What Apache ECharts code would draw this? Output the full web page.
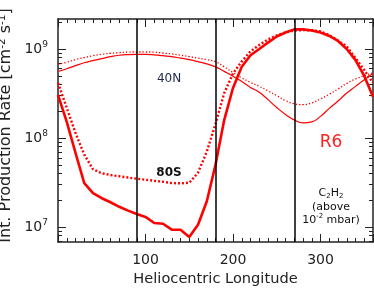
<!DOCTYPE html>
<html><head><meta charset="utf-8">
<script src="https://cdn.jsdelivr.net/npm/echarts@6/dist/echarts.min.js"></script>
<style>html,body{margin:0;padding:0;background:#fff}#c{width:374px;height:288px}</style>
</head><body><div id="c"></div>
<script>
// Heliocentric longitude (deg)
const longitudes = [0,10,20,30,40,50,60,70,80,90,100,110,120,130,140,150,160,170,180,190,200,210,220,230,240,250,260,270,280,290,300,310,320,330,340,350,360];
// Integrated production rate [cm^-2 s^-1]
const n40Solid = [5.6e8,6.0e8,6.5e8,7.0e8,7.4e8,7.8e8,8.2e8,8.5e8,8.65e8,8.7e8,8.7e8,8.6e8,8.4e8,8.2e8,7.9e8,7.6e8,7.2e8,6.8e8,6.3e8,5.6e8,4.95e8,4.3e8,3.7e8,3.27e8,2.7e8,2.2e8,1.84e8,1.6e8,1.48e8,1.52e8,1.75e8,2.15e8,2.6e8,3.2e8,3.8e8,4.5e8,5.3e8];
const n40Dotted = [6.7e8,7.1e8,7.6e8,8.0e8,8.4e8,8.7e8,8.95e8,9.1e8,9.2e8,9.25e8,9.25e8,9.2e8,9.0e8,8.8e8,8.5e8,8.2e8,7.9e8,7.6e8,7.2e8,6.3e8,5.43e8,4.73e8,4.22e8,3.8e8,3.39e8,2.99e8,2.63e8,2.43e8,2.37e8,2.48e8,2.75e8,3.1e8,3.55e8,4.1e8,4.6e8,5.0e8,5.4e8];
const s80Solid = [3.05e8,1.52e8,6.8e7,3.12e7,2.41e7,2.11e7,1.9e7,1.69e7,1.53e7,1.4e7,1.3e7,1.11e7,1.09e7,9.35e6,9.35e6,7.74e6,1.06e7,1.94e7,5.0e7,1.6e8,3.65e8,6.3e8,8.5e8,1.0e9,1.18e9,1.38e9,1.53e9,1.66e9,1.66e9,1.61e9,1.53e9,1.40e9,1.23e9,1.0e9,7.5e8,4.98e8,2.9e8];
const s80Dotted = [4.16e8,2.18e8,1.14e8,6.5e7,4.46e7,4.02e7,3.84e7,3.72e7,3.6e7,3.49e7,3.4e7,3.31e7,3.23e7,3.12e7,3.1e7,3.15e7,4.07e7,7.0e7,1.44e8,3.2e8,5.3e8,7.24e8,9.4e8,1.11e9,1.28e9,1.42e9,1.53e9,1.61e9,1.63e9,1.62e9,1.57e9,1.43e9,1.24e9,1.07e9,7.9e8,5.8e8,4.16e8];
const yMajorTicks = [1e7,1e8,1e9];
const xTickLabels = [100,200,300];
const markLongitudes = [90,180,270];
const yRange = [6.8e6, 2.17e9];

const lg = v => Math.log10(v);
const pairs = arr => longitudes.map((x,i)=>[x, lg(arr[i])]);
const yMin = lg(yRange[0]), yMax = lg(yRange[1]);
const majorLog = yMajorTicks.map(lg);
const minorLog = [];
for (let n = 6; n <= 9; n++) for (let k = 2; k <= 9; k++) {
  const v = Math.log10(k) + n;
  if (v > yMin && v < yMax) minorLog.push(v);
}
const axisColor = '#222';
const font = 'DejaVu Sans';
const supRich = {
  b: {fontSize: 14, fontFamily: font, color: '#222', lineHeight: 18},
  s: {fontSize: 9, fontFamily: font, color: '#222', lineHeight: 11, verticalAlign: 'top'}
};
const nameRich = {
  b: {fontSize: 16, fontFamily: font, color: '#222', lineHeight: 18},
  s: {fontSize: 10.5, fontFamily: font, color: '#222', lineHeight: 11, verticalAlign: 'top'}
};
function xAx(pos, major, labels) {
  return {
    type: 'value', position: pos, min: 0, max: 360, interval: major ? 100 : 10,
    axisLine: {show: major, onZero: false, lineStyle: {color: axisColor, width: 1.5}},
    axisTick: {show: true, inside: true, length: major ? 8 : 4, lineStyle: {color: axisColor, width: 1}},
    axisLabel: labels ? {show: true, customValues: xTickLabels, margin: 11, fontSize: 14, fontFamily: font, color: '#222'} : {show: false},
    splitLine: {show: false}
  };
}
function yAx(pos, major, labels) {
  const o = {
    type: 'value', position: pos, min: yMin, max: yMax,
    axisLine: {show: major, onZero: false, lineStyle: {color: axisColor, width: 1.5}},
    axisTick: {show: true, inside: true, length: major ? 8 : 4, customValues: major ? majorLog : minorLog, lineStyle: {color: axisColor, width: 1}},
    axisLabel: labels ? {show: true, customValues: majorLog, margin: 10, formatter: v => '{b|10}{s|' + Math.round(v) + '}', rich: supRich} : {show: false},
    splitLine: {show: false}
  };
  if (labels) {
    o.name = '{b|Int. Production Rate [cm}{s|-2}{b| s}{s|-1}{b|]}';
    o.nameLocation = 'middle';
    o.nameGap = 38;
    o.nameTextStyle = {rich: nameRich, padding: [0, 0, 0, 10]};
  }
  return o;
}
const xa0 = xAx('bottom', true, true);
xa0.name = 'Heliocentric Longitude';
xa0.nameLocation = 'middle';
xa0.nameGap = 29;
xa0.nameTextStyle = {fontSize: 14.6, fontFamily: font, color: '#222'};

const chart = echarts.init(document.getElementById('c'), null, {renderer: 'canvas'});
chart.setOption({
  animation: false,
  backgroundColor: '#fff',
  grid: {left: 58, right: 1, top: 19, bottom: 46, containLabel: false, outerBoundsMode: 'none'},
  xAxis: [xa0, xAx('bottom', false, false), xAx('top', true, false), xAx('top', false, false)],
  yAxis: [yAx('left', true, true), yAx('left', false, false), yAx('right', true, false), yAx('right', false, false)],
  series: [
    {type: 'line', data: pairs(n40Solid), smooth: true, symbol: 'none', lineStyle: {color: '#ff0000', width: 1.2}},
    {type: 'line', data: pairs(n40Dotted), smooth: true, symbol: 'none', lineStyle: {color: '#ff0000', width: 1.3, type: [1.3, 2]}},
    {type: 'line', data: pairs(s80Solid), symbol: 'none', lineStyle: {color: '#ff0000', width: 2.6}},
    {type: 'line', data: pairs(s80Dotted), symbol: 'none', lineStyle: {color: '#ff0000', width: 2.4, type: [2, 2]},
     markLine: {silent: true, symbol: 'none', label: {show: false},
       lineStyle: {color: '#000', width: 1.5, type: 'solid'},
       data: markLongitudes.map(x => ({xAxis: x}))}}
  ],
  graphic: [
    {type: 'text', x: 169, y: 79, style: {text: '40N', fontSize: 12, fontFamily: font, fill: '#1e2846', align: 'center', verticalAlign: 'middle'}},
    {type: 'text', x: 169, y: 173, style: {text: '80S', fontSize: 12, fontWeight: 'bold', fontFamily: font, fill: '#111', align: 'center', verticalAlign: 'middle'}},
    {type: 'text', x: 331, y: 143, style: {text: 'R6', fontSize: 17, fontFamily: font, fill: '#ff2020', align: 'center', verticalAlign: 'middle'}},
    {type: 'text', x: 331, y: 193, style: {text: '{a|C}{u|2}{a|H}{u|2}', align: 'center', verticalAlign: 'middle',
      rich: {a: {fontSize: 11, fontFamily: font, fill: '#111', lineHeight: 14}, u: {fontSize: 7, fontFamily: font, fill: '#111', lineHeight: 9, verticalAlign: 'bottom'}}}},
    {type: 'text', x: 331, y: 207, style: {text: '(above', fontSize: 11, fontFamily: font, fill: '#111', align: 'center', verticalAlign: 'middle'}},
    {type: 'text', x: 331, y: 220, style: {text: '{a|10}{u|-2}{a| mbar)}', align: 'center', verticalAlign: 'middle',
      rich: {a: {fontSize: 11, fontFamily: font, fill: '#111', lineHeight: 14}, u: {fontSize: 7, fontFamily: font, fill: '#111', lineHeight: 9, verticalAlign: 'top'}}}}
  ]
});
</script></body></html>
